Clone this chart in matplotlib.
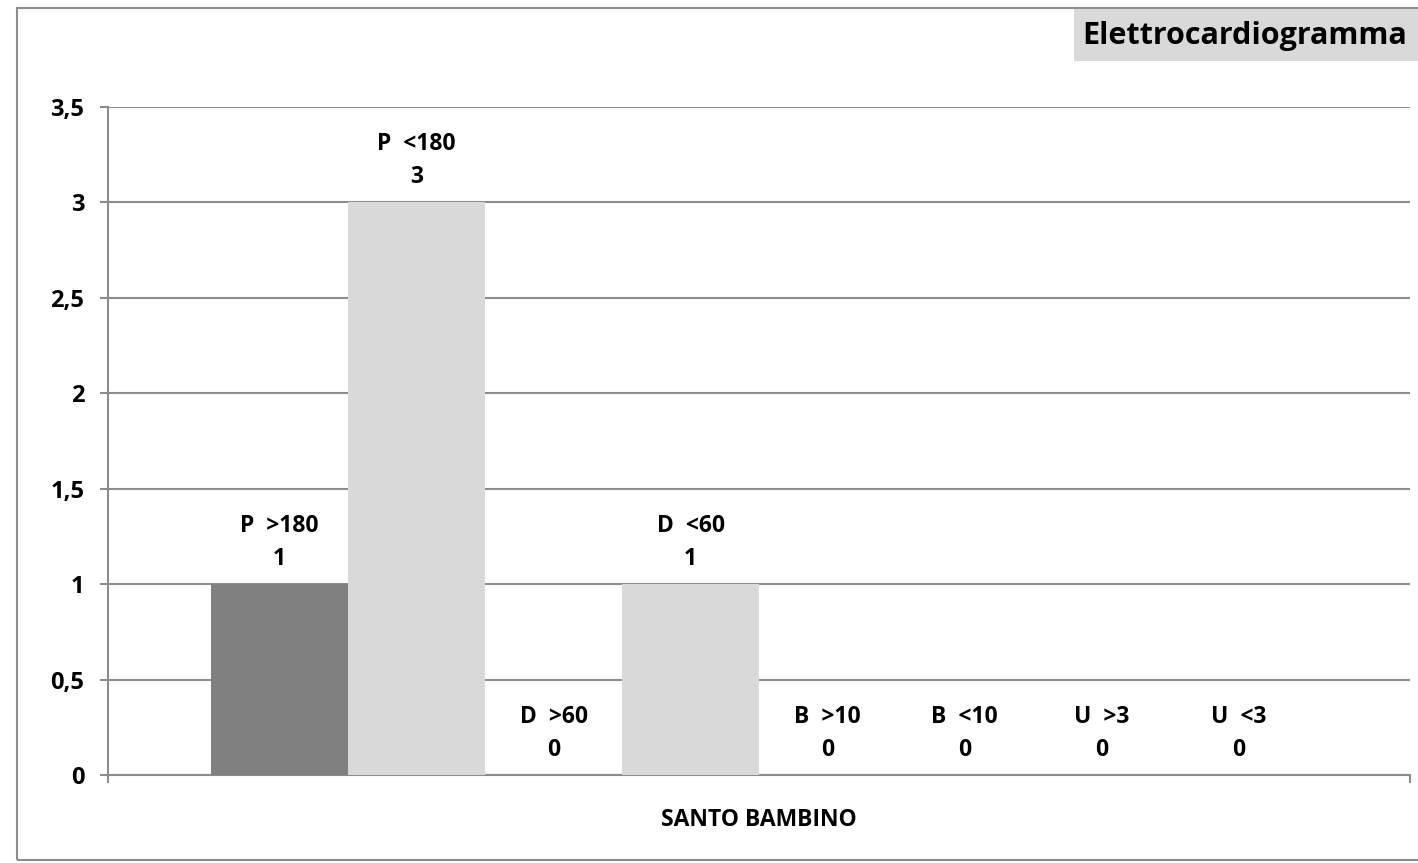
import numpy as np
import matplotlib
matplotlib.use('Agg')
import matplotlib.pyplot as plt
from matplotlib.patches import Rectangle
from matplotlib.ticker import FuncFormatter

plt.rcParams['font.family'] = ['Open Sans', 'DejaVu Sans']

categories = ['P  >180', 'P  <180', 'D  >60', 'D  <60', 'B  >10', 'B  <10', 'U  >3', 'U  <3']
values = [1, 3, 0, 1, 0, 0, 0, 0]
bar_colors = ['#808080', '#d9d9d9'] * 4
group_label = 'SANTO BAMBINO'
title = 'Elettrocardiogramma'
yticks = np.arange(0, 3.51, 0.5)

W, H = 1418, 863
fig = plt.figure(figsize=(W / 100, H / 100), dpi=100)

# outer chart border
fig.patches.append(Rectangle((17 / W, 3 / H), 1.05, (855 - 3) / H, transform=fig.transFigure,
                             fill=False, edgecolor='#8c8c8c', lw=1.5))
# title box
fig.patches.append(Rectangle((1074 / W, 1 - 61 / H), 0.3, 52 / H, transform=fig.transFigure,
                             facecolor='#d9d9d9', edgecolor='none'))
fig.text(1245 / W, 1 - 36 / H, title, ha='center', va='center', fontsize=22, fontweight='bold')

ax = fig.add_axes([108 / W, 1 - 775 / H, (1410 - 108) / W, (775 - 107) / H])

x = np.arange(len(values))
ax.bar(x, values, width=1.0, color=bar_colors, zorder=3)

for xi, v, lab in zip(x, values, categories):
    ax.annotate(f'{lab}\n{v}', (xi, v), xytext=(0, 9.5), textcoords='offset points',
                ha='center', va='bottom', fontsize=16.5, fontweight='bold', linespacing=1.5)

margin = 0.752
ax.set_xlim(-0.5 - margin, len(values) - 0.5 + margin)
ax.set_ylim(0, 3.5)
ax.set_yticks(yticks)
ax.yaxis.set_major_formatter(FuncFormatter(lambda v, p: f'{v:g}'.replace('.', ',')))
ax.grid(axis='y', color='#8c8c8c', lw=1.5, zorder=0)
ax.set_axisbelow(True)

ax.set_xticks([(len(values) - 1) / 2])
ax.set_xticklabels([group_label])
ax.set_xticks(list(ax.get_xlim()), minor=True)
ax.tick_params(axis='x', which='major', length=0, pad=24, labelsize=16.5)
ax.tick_params(axis='x', which='minor', length=6, color='#8c8c8c', width=1.5, direction='out')
ax.tick_params(axis='y', length=6, color='#8c8c8c', width=1.5, pad=11, labelsize=17)
for lbl in ax.get_xticklabels() + ax.get_yticklabels():
    lbl.set_fontweight('bold')

for s in ['top', 'right']:
    ax.spines[s].set_visible(False)
for s in ['left', 'bottom']:
    ax.spines[s].set_color('#8c8c8c')
    ax.spines[s].set_linewidth(1.5)

fig.savefig('out.png', dpi=100)
